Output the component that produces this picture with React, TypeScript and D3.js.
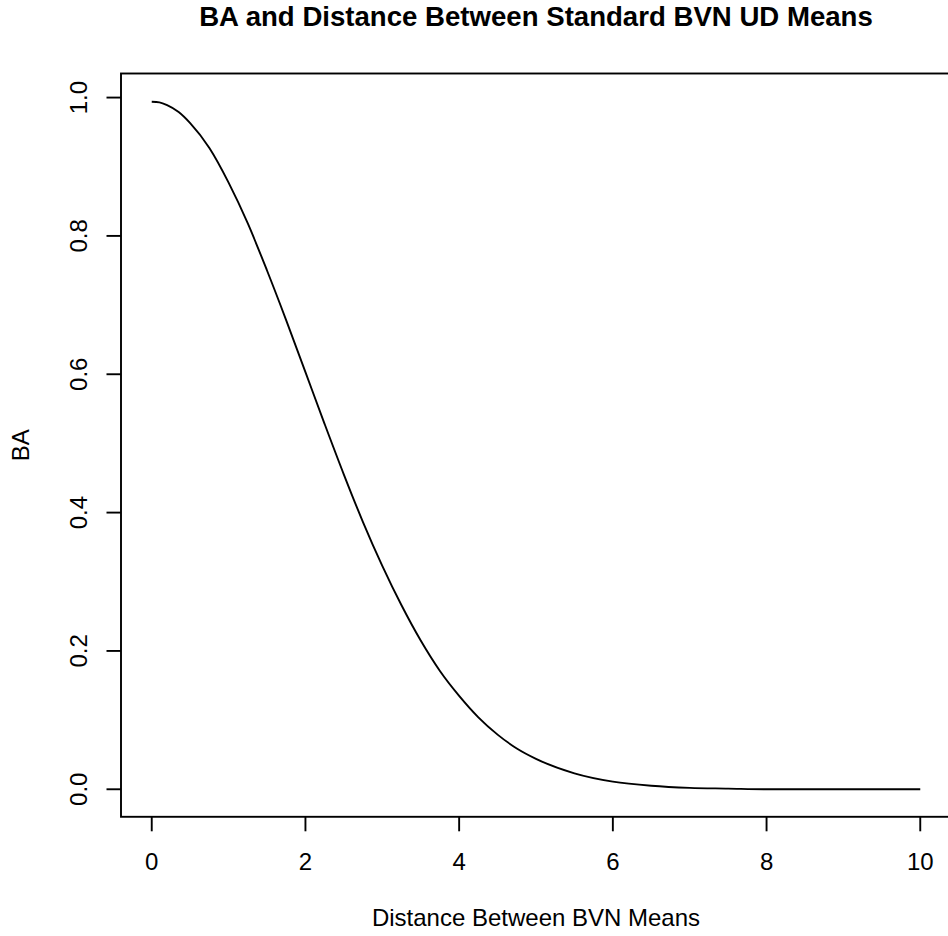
import React from "react";
import * as d3 from "d3";

const distances = [0, 0.1, 0.2, 0.35, 0.5, 0.75, 1, 1.25, 1.5, 1.75, 2, 2.25, 2.5, 2.75, 3, 3.25, 3.5, 3.75, 4, 4.25, 4.5, 4.75, 5, 5.5, 6, 6.5, 7, 7.5, 8, 9, 10];
const baValues = [0.994, 0.993, 0.989, 0.979, 0.963, 0.927, 0.877, 0.818, 0.75, 0.678, 0.603, 0.528, 0.455, 0.386, 0.323, 0.266, 0.215, 0.171, 0.135, 0.104, 0.079, 0.059, 0.044, 0.023, 0.011, 0.005, 0.002, 0.001, 0, 0, 0];
const xTicks = [0, 2, 4, 6, 8, 10];
const yTicks = [0, 0.2, 0.4, 0.6, 0.8, 1.0];
const titleText = "BA and Distance Between Standard BVN UD Means";
const xLabel = "Distance Between BVN Means";
const yLabel = "BA";

const W = 948;
const H = 936;
const box = { left: 121, right: 951, top: 73.5, bottom: 816.8 };
const font = "'Liberation Sans', Arial, Helvetica, sans-serif";
const fs = 24;

export default function App() {
  const x = d3.scaleLinear().domain([-0.4, 10.4]).range([box.left, box.right]);
  const y = d3.scaleLinear().domain([-0.0398, 1.0348]).range([box.bottom, box.top]);
  const pts = distances.map((d, i) => [d, baValues[i]] as [number, number]);
  const line = d3
    .line<[number, number]>()
    .x((d) => x(d[0]))
    .y((d) => y(d[1]))
    .curve(d3.curveMonotoneX);
  const tickLen = 14.5;
  const fmt = d3.format(".1f");
  const cx = (box.left + box.right) / 2;
  const cy = (box.top + box.bottom) / 2;
  return (
    <svg width={W} height={H} style={{ position: "absolute", left: 0, top: 0, background: "#fff" }}>
      <rect x={0} y={0} width={W} height={H} fill="#fff" />
      <text x={cx} y={26} textAnchor="middle" fontFamily={font} fontWeight="bold" fontSize={27.6} fill="#000">
        {titleText}
      </text>
      <path d={line(pts) || ""} fill="none" stroke="#000" strokeWidth={1.9} />
      <rect
        x={box.left}
        y={box.top}
        width={box.right - box.left}
        height={box.bottom - box.top}
        fill="none"
        stroke="#000"
        strokeWidth={1.9}
      />
      {xTicks.map((t) => (
        <g key={"x" + t}>
          <line x1={x(t)} x2={x(t)} y1={box.bottom} y2={box.bottom + tickLen} stroke="#000" strokeWidth={1.9} />
          <text x={x(t)} y={870} textAnchor="middle" fontFamily={font} fontSize={fs} fill="#000">
            {String(t)}
          </text>
        </g>
      ))}
      {yTicks.map((t) => (
        <g key={"y" + t}>
          <line x1={box.left - tickLen} x2={box.left} y1={y(t)} y2={y(t)} stroke="#000" strokeWidth={1.9} />
          <text
            transform={`translate(87,${y(t)}) rotate(-90)`}
            textAnchor="middle"
            fontFamily={font}
            fontSize={fs}
            fill="#000"
          >
            {fmt(t)}
          </text>
        </g>
      ))}
      <text x={cx} y={926} textAnchor="middle" fontFamily={font} fontSize={fs} fill="#000">
        {xLabel}
      </text>
      <text transform={`translate(29,${cy}) rotate(-90)`} textAnchor="middle" fontFamily={font} fontSize={fs} fill="#000">
        {yLabel}
      </text>
    </svg>
  );
}
